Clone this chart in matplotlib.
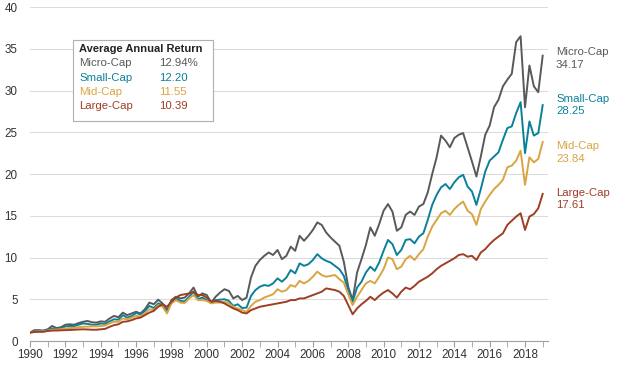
import numpy as np
import matplotlib.pyplot as plt
from matplotlib.patches import Rectangle

plt.rcParams['font.family'] = ['Liberation Sans', 'DejaVu Sans']

# quarterly points, 1990.00 .. 2019.00
years = np.arange(1990, 2019.01, 0.25)

micro = [
    1.00, 1.30, 1.30, 1.25,   # 1990
    1.40, 1.80, 1.55, 1.65,
    1.95, 2.00, 1.95, 2.15,
    2.30, 2.40, 2.25, 2.20,
    2.35, 2.30, 2.70, 3.00,
    2.85, 3.40, 3.10, 3.30,   # 1995
    3.50, 3.30, 3.80, 4.60,
    4.40, 4.95, 4.50, 3.70,
    4.90, 5.30, 5.10, 5.20,
    5.70, 6.40, 5.30, 5.70,
    5.50, 4.60, 5.30, 5.80,   # 2000
    6.20, 6.00, 5.10, 5.40,
    4.90, 5.20, 7.60, 9.00,
    9.70, 10.20, 10.60, 10.30,
    10.90, 9.80, 10.20, 11.30,
    10.80, 12.60, 12.00, 12.60,  # 2005
    13.30, 14.20, 13.90, 13.00,
    12.40, 11.90, 11.40, 9.50,
    6.50, 4.90, 8.20, 9.80,
    11.50, 13.60, 12.60, 14.00,
    15.60, 16.40, 15.50, 13.20,  # 2010
    13.60, 15.10, 15.50, 15.10,
    16.10, 16.40, 17.80, 20.00,
    22.00, 24.60, 24.00, 23.20,
    24.30, 24.70, 24.90, 23.20,
    21.50, 19.70, 22.10, 24.70,  # 2015
    25.80, 28.00, 28.90, 30.50,
    31.30, 32.00, 35.80, 36.50,
    28.00, 33.00, 30.50, 29.80,
    34.17,
]

small = [
    1.00, 1.20, 1.22, 1.20,
    1.30, 1.50, 1.40, 1.50,
    1.75, 1.80, 1.78, 1.95,
    2.10, 2.05, 1.95, 1.95,
    2.10, 2.05, 2.35, 2.60,
    2.55, 3.10, 2.80, 3.00,
    3.35, 3.20, 3.60, 4.20,
    3.95, 4.50, 4.30, 3.50,
    4.70, 5.10, 4.80, 4.75,
    5.30, 5.90, 5.00, 5.20,
    4.90, 4.70, 4.90, 4.95,
    5.00, 4.80, 4.20, 4.40,
    3.95, 4.00, 5.40, 6.10,
    6.50, 6.70, 6.60, 6.90,
    7.50, 7.10, 7.60, 8.50,
    8.10, 9.30, 9.00, 9.20,
    9.70, 10.40, 9.90, 9.60,
    9.40, 9.00, 8.60, 7.80,
    6.10, 4.70, 6.40, 7.10,
    8.20, 8.90, 8.40, 9.40,
    10.80, 12.10, 11.60, 10.30,
    10.90, 12.10, 12.20, 11.70,
    12.50, 12.90, 14.50, 16.30,
    17.50, 18.40, 18.80, 18.20,
    19.00, 19.60, 19.90, 18.50,
    17.90, 16.30, 18.20, 20.30,
    21.60, 22.10, 22.60, 24.10,
    25.50, 25.70, 27.30, 28.60,
    22.50, 26.30, 24.60, 24.90,
    28.25,
]

mid = [
    1.00, 1.12, 1.15, 1.15,
    1.24, 1.35, 1.35, 1.42,
    1.50, 1.55, 1.58, 1.65,
    1.70, 1.72, 1.75, 1.75,
    1.80, 1.85, 2.10, 2.30,
    2.30, 2.70, 2.60, 2.80,
    3.00, 2.95, 3.30, 3.80,
    3.70, 4.30, 4.10, 3.30,
    4.50, 4.90, 4.60, 4.55,
    5.10, 5.50, 4.90, 4.90,
    4.80, 4.50, 4.60, 4.60,
    4.70, 4.50, 4.10, 3.90,
    3.70, 3.50, 4.20, 4.70,
    4.90, 5.20, 5.40, 5.60,
    6.20, 5.90, 6.10, 6.70,
    6.50, 7.20, 6.90, 7.20,
    7.70, 8.30, 7.90, 7.70,
    7.80, 7.90, 7.40, 7.00,
    5.60, 4.30, 5.30, 6.10,
    6.90, 7.20, 6.90, 7.70,
    8.60, 10.00, 9.80, 8.60,
    8.90, 9.80, 10.20, 9.70,
    10.40, 11.00, 12.50, 13.70,
    14.50, 15.30, 15.60, 15.10,
    15.80, 16.30, 16.70, 15.60,
    15.20, 13.90, 15.80, 16.70,
    17.50, 18.20, 18.70, 19.30,
    20.80, 21.00, 21.60, 22.80,
    18.70, 22.00, 21.40, 21.80,
    23.84,
]

large = [
    1.00, 1.08, 1.10, 1.10,
    1.20, 1.25, 1.25, 1.28,
    1.30, 1.32, 1.35, 1.38,
    1.40, 1.38, 1.35, 1.35,
    1.40, 1.45, 1.70, 1.90,
    2.00, 2.30, 2.35, 2.50,
    2.70, 2.80, 3.10, 3.40,
    3.60, 4.10, 4.40, 4.10,
    4.70, 5.20, 5.50, 5.60,
    5.70, 5.90, 5.50, 5.50,
    5.20, 4.70, 4.80, 4.70,
    4.50, 4.20, 3.90, 3.70,
    3.40, 3.30, 3.70, 3.90,
    4.10, 4.20, 4.30, 4.40,
    4.50, 4.60, 4.70, 4.90,
    4.90, 5.10, 5.10, 5.30,
    5.50, 5.70, 5.90, 6.30,
    6.20, 6.10, 5.90, 5.40,
    4.30, 3.20, 3.90, 4.40,
    4.80, 5.30, 4.90, 5.40,
    5.80, 6.10, 5.70, 5.20,
    5.90, 6.40, 6.20, 6.60,
    7.10, 7.40, 7.70, 8.10,
    8.60, 9.00, 9.30, 9.60,
    9.90, 10.30, 10.40, 10.10,
    10.20, 9.70, 10.60, 11.00,
    11.60, 12.10, 12.50, 12.90,
    13.90, 14.40, 14.90, 15.30,
    13.30, 14.90, 15.20, 15.90,
    17.61,
]

names = ['Micro-Cap', 'Small-Cap', 'Mid-Cap', 'Large-Cap']
avg_return = ['12.94%', '12.20', '11.55', '10.39']
final_value = ['34.17', '28.25', '23.84', '17.61']
colors = ['#58595b', '#0a8199', '#d9a441', '#9e3f24']

W, H = 625, 365


def px(x, y):
    # pixel position -> figure fraction
    return x / W, 1 - y / H


fig = plt.figure(figsize=(W / 100, H / 100), dpi=100)
ax = fig.add_axes([30 / W, 1 - 341 / H, 518 / W, 334 / H])

for vals, c in zip([micro, small, mid, large], colors):
    ax.plot(years, vals, color=c, lw=1.4, zorder=3)

ax.set_xlim(1990, 2019.3)
ax.set_ylim(0, 40)
ax.set_yticks(range(0, 41, 5))
ax.set_xticks(range(1990, 2019, 2))
ax.set_xticks(range(1990, 2020), minor=True)
ax.yaxis.grid(True, color='#dcdcdc', lw=0.8, zorder=0)
ax.set_axisbelow(True)
for s in ['top', 'right', 'left']:
    ax.spines[s].set_visible(False)
ax.spines['bottom'].set_color('#a0a0a0')
ax.tick_params(axis='y', length=0, pad=9, labelsize=8.4, labelcolor='#333333')
ax.tick_params(axis='x', which='both', length=4, color='#a0a0a0',
               labelsize=8.4, labelcolor='#333333', pad=2)

# legend-like box
box = Rectangle(px(73, 121), 140 / W, 81 / H, transform=fig.transFigure,
                facecolor='white', edgecolor='#b0b0b0', lw=0.8, zorder=5)
fig.patches.append(box)
fig.text(*px(79, 49), 'Average Annual Return', fontsize=8.0, weight='bold',
         color='#222222', va='center', zorder=6)
row_y = [63, 78, 92, 106]
for n, r, c, y in zip(names, avg_return, colors, row_y):
    fig.text(*px(79, y), n, fontsize=8.2, color=c, va='center', zorder=6)
    fig.text(*px(159, y), r, fontsize=8.2, color=c, va='center', zorder=6)

# end labels
name_y = [52, 99, 146, 193]
for n, v, c, y in zip(names, final_value, colors, name_y):
    fig.text(*px(556, y), n, fontsize=8.2, color=c, va='center')
    fig.text(*px(556, y + 12.5), v, fontsize=8.2, color=c, va='center')

fig.savefig('out.png', dpi=100)
